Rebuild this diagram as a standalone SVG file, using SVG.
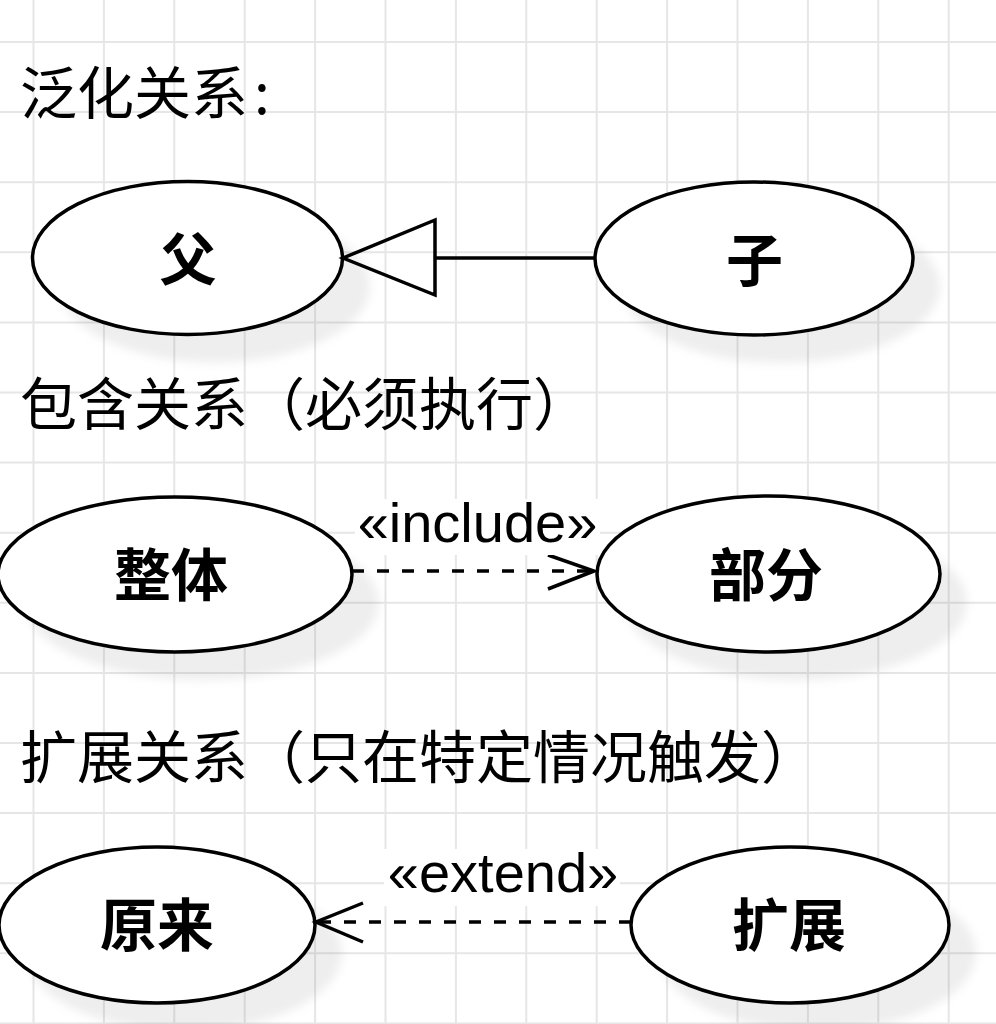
<svg xmlns="http://www.w3.org/2000/svg" width="996" height="1024" viewBox="0 0 996 1024">
<style>
.grid{stroke:#e6e6e6;stroke-width:2;fill:none}
.node{fill:#ffffff;stroke:#000000;stroke-width:3.5}
.shadow{fill:#000000;fill-opacity:0.065;filter:url(#blur)}
.title{font-family:"Noto Sans CJK SC","Noto Sans",sans-serif;font-size:57px;fill:#000}
.label{font-family:"Noto Sans CJK SC","Noto Sans",sans-serif;font-size:57px;font-weight:bold;fill:#000;text-anchor:middle}
.elabel{font-family:"Liberation Sans",Arial,sans-serif;font-size:56px;fill:#000;text-anchor:middle}
.edge{stroke:#000;stroke-width:3.5;fill:none}
.dash{stroke-dasharray:12 13}
.lblbg{fill:#ffffff}
</style>
<defs>
<filter id="blur" x="-20%" y="-20%" width="140%" height="140%"><feGaussianBlur stdDeviation="5"/></filter>
</defs>
<rect x="0" y="0" width="996" height="1024" fill="#ffffff"/>
<g id="grid">
<path class="grid" d="M33.5 0V1024M103.9 0V1024M174.3 0V1024M244.7 0V1024M315.1 0V1024M385.5 0V1024M455.9 0V1024M526.3 0V1024M596.7 0V1024M667.1 0V1024M737.5 0V1024M807.9 0V1024M878.3 0V1024M948.7 0V1024M0 42H996M0 112.1H996M0 182.2H996M0 252.3H996M0 322.4H996M0 392.5H996M0 462.6H996M0 532.7H996M0 602.8H996M0 672.9H996M0 743H996M0 813.1H996M0 883.2H996M0 953.3H996M0 1023.4H996"/>
</g>
<g id="titles">
<text id="title1" class="title" x="20" y="114">泛化关系<tspan dx="6">:</tspan></text>
<text id="title2" class="title" x="20" y="425">包含关系（必须执行）</text>
<text id="title3" class="title" x="20" y="778">扩展关系（只在特定情况触发）</text>
</g>
<g id="node-fu">
<ellipse class="shadow" cx="215" cy="286" rx="155" ry="76.5"/>
<ellipse class="node" cx="187.5" cy="258" rx="155" ry="76.5"/>
<text class="label" x="188" y="280">父</text>
</g>
<g id="node-zi">
<ellipse class="shadow" cx="781" cy="286.5" rx="159" ry="76.5"/>
<ellipse class="node" cx="754" cy="258.5" rx="159" ry="76.5"/>
<text class="label" x="754.5" y="281">子</text>
</g>
<g id="node-zhengti">
<ellipse class="shadow" cx="202" cy="602.5" rx="177" ry="77.5"/>
<ellipse class="node" cx="175" cy="574.5" rx="177" ry="77.5"/>
<text class="label" x="171" y="596">整体</text>
</g>
<g id="node-bufen">
<ellipse class="shadow" cx="795.5" cy="602" rx="171.5" ry="78"/>
<ellipse class="node" cx="768.5" cy="574" rx="171.5" ry="78"/>
<text class="label" x="766" y="596">部分</text>
</g>
<g id="node-yuanlai">
<ellipse class="shadow" cx="184" cy="953" rx="158" ry="78"/>
<ellipse class="node" cx="157" cy="925" rx="158" ry="78"/>
<text class="label" x="157" y="946">原来</text>
</g>
<g id="node-kuozhan">
<ellipse class="shadow" cx="817" cy="953" rx="159" ry="78"/>
<ellipse class="node" cx="790" cy="925" rx="159" ry="78"/>
<text class="label" x="789" y="946">扩展</text>
</g>
<g id="connectors">
<path class="edge" d="M594 258H435"/>
<path class="edge" d="M343 258L435 220V295Z" stroke-linejoin="miter"/>
<path class="edge dash" d="M352 571H592"/>
<path class="edge" d="M548 555L594 571L548 589"/>
<rect class="lblbg" x="355" y="499" width="245" height="56"/>
<text class="elabel" x="477.5" y="542">«include»</text>
<path class="edge dash" d="M631 922H318"/>
<path class="edge" d="M363 903L316 922L363 942"/>
<rect class="lblbg" x="384" y="849" width="236" height="57"/>
<text class="elabel" x="503" y="892">«extend»</text>
</g>
</svg>
